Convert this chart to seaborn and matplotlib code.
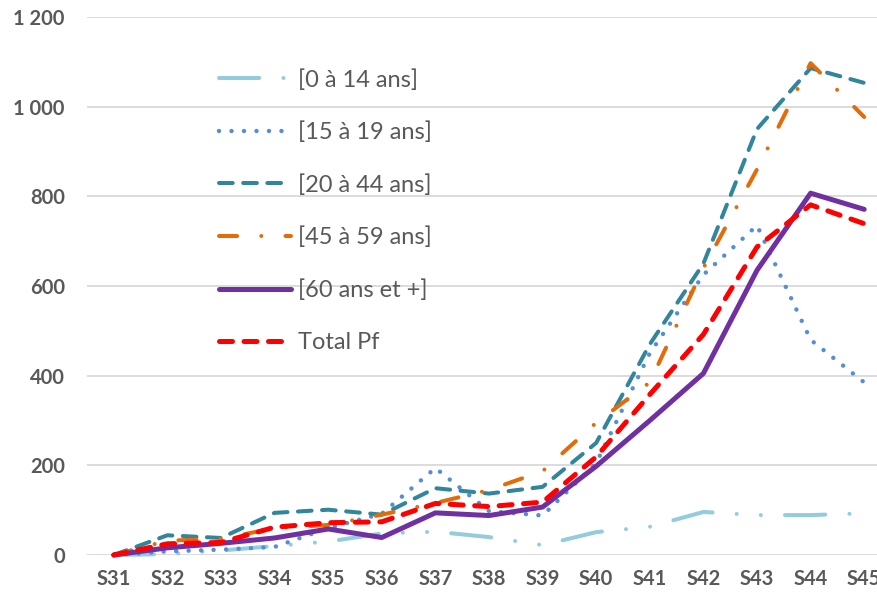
import numpy as np
import matplotlib
matplotlib.use("Agg")
import matplotlib.pyplot as plt
from matplotlib.ticker import FuncFormatter
import seaborn as sns

# weekly counts per age class
weeks = ["S31", "S32", "S33", "S34", "S35", "S36", "S37", "S38",
         "S39", "S40", "S41", "S42", "S43", "S44", "S45"]
age_0_14 = [0, 2, 10, 20, 30, 48, 52, 40, 22, 51, 63, 96, 89, 89, 93]
age_15_19 = [0, 8, 12, 18, 60, 92, 194, 98, 88, 205, 450, 625, 735, 480, 385]
age_20_44 = [0, 44, 38, 94, 101, 90, 149, 137, 152, 250, 470, 650, 950, 1086, 1053]
age_45_59 = [0, 32, 36, 60, 67, 90, 116, 145, 187, 295, 385, 640, 860, 1097, 977]
age_60_plus = [0, 16, 26, 38, 58, 39, 94, 88, 107, 198, 300, 405, 635, 807, 771]
total_pf = [0, 25, 28, 62, 72, 74, 115, 108, 118, 219, 358, 492, 687, 781, 739]

labels = ["[0 à 14 ans]", "[15 à 19 ans]", "[20 à 44 ans]",
          "[45 à 59 ans]", "[60 ans et +]", "Total Pf"]
series = [age_0_14, age_15_19, age_20_44, age_45_59, age_60_plus, total_pf]

# colour, width (pt), dash pattern (in line widths)
styles = [
    ("#93CDDD", 2.9, (0, (10, 6, 0.01, 6, 0.01, 6))),
    ("#558ED5", 3.2, (0, (0.01, 2.8))),
    ("#31859C", 2.9, (0, (3.4, 2.6))),
    ("#E36C09", 2.9, (0, (4.5, 6, 0.01, 6))),
    ("#7030A0", 3.6, "-"),
    ("#FF0000", 3.6, (0, (2.6, 2.3))),
]

sns.set_style("white")
plt.rcParams["font.family"] = ["Lato", "DejaVu Sans"]

fig = plt.figure(figsize=(8.78, 5.97), dpi=100)
ax = fig.add_axes([87 / 878, 42 / 597, 804 / 878, 538 / 597])

x = np.arange(len(weeks))
for vals, lab, (col, lw, ls) in zip(series, labels, styles):
    sns.lineplot(x=x, y=vals, ax=ax, color=col, linewidth=lw, linestyle=ls,
                 label=lab, sort=False, clip_on=False,
                 dash_capstyle="round", solid_capstyle="round",
                 solid_joinstyle="round", dash_joinstyle="round")

ax.set_xlim(-0.5, 14.5)
ax.set_ylim(0, 1200)
ax.set_yticks(range(0, 1201, 200))
ax.yaxis.set_major_formatter(FuncFormatter(lambda v, p: f"{int(v):,}".replace(",", " ")))
ax.set_xticks(x)
ax.set_xticklabels(weeks)
ax.grid(False)
ax.yaxis.grid(True, color="#D9D9D9", linewidth=1.3)
ax.set_axisbelow(True)
for s in ax.spines.values():
    s.set_visible(False)
ax.tick_params(axis="both", length=0, labelsize=14.5, labelcolor="#595959")
ax.tick_params(axis="y", pad=16)
ax.tick_params(axis="x", pad=10)
for t in ax.get_xticklabels() + ax.get_yticklabels():
    t.set_fontweight("bold")

leg = ax.legend(loc="upper left", bbox_to_anchor=(219 / 878, 1 - 69 / 597),
                bbox_transform=fig.transFigure, frameon=False, fontsize=17,
                handlelength=3.05, handletextpad=0.3, labelspacing=1.31,
                borderpad=0, borderaxespad=0)
for t in leg.get_texts():
    t.set_color("#595959")

fig.savefig("out.png", dpi=100)
